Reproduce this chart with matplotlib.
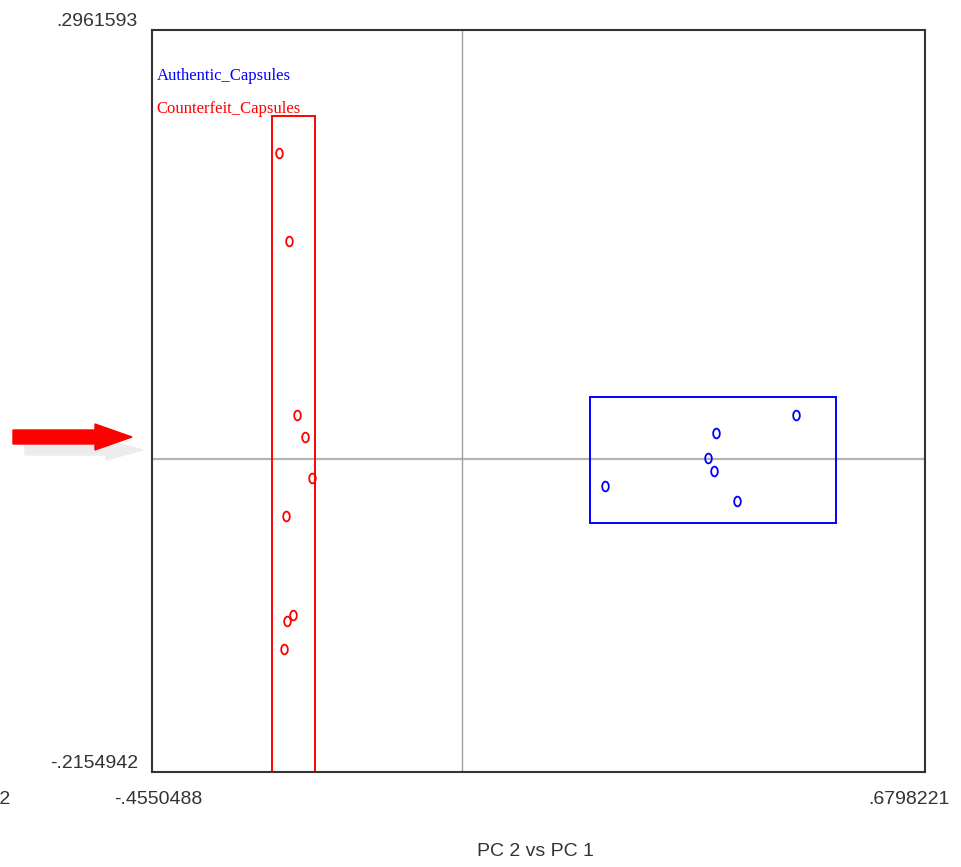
import numpy as np
import matplotlib
matplotlib.use("Agg")
import matplotlib.pyplot as plt
from matplotlib.path import Path
from matplotlib.patches import Rectangle, FancyArrow

# axis limits (PC 1 on x, PC 2 on y)
x_min, x_max = -0.4550488, 0.6798221
y_min, y_max = -0.2154942, 0.2961593

# scores
auth_pc1 = [0.2100, 0.3730, 0.3612, 0.3700, 0.4038, 0.4904]
auth_pc2 = [-0.0183, 0.0183, 0.0010, -0.0079, -0.0286, 0.0307]
fake_pc1 = [-0.2686, -0.2539, -0.2422, -0.2304, -0.2201, -0.2583, -0.2480, -0.2569, -0.2613]
fake_pc2 = [0.2113, 0.1507, 0.0307, 0.0155, -0.0128, -0.0390, -0.1072, -0.1114, -0.1307]

# class boxes: x0, x1, y0, y1
auth_box = [0.1880, 0.5491, -0.0438, 0.0431]
fake_box = [-0.2789, -0.2157, -0.30, 0.2368]

narrow = ['Liberation Sans Narrow', 'Liberation Sans', 'DejaVu Sans']
serif = ['Liberation Serif', 'DejaVu Serif']

# "o" shaped marker, taller than wide
t = np.linspace(0, 2 * np.pi, 40)
oval = Path(np.column_stack([0.68 * np.cos(t), np.sin(t)]), closed=True)

fig = plt.figure(figsize=(9.61, 8.67), dpi=100)
ax = fig.add_axes([152 / 961, 95 / 867, 773 / 961, 742 / 867])
ax.set_xlim(x_min, x_max)
ax.set_ylim(y_min, y_max)

ax.axhline(0, color='#b4b4b4', lw=1.6, zorder=1)
ax.axvline(0, color='#a0a0a0', lw=1.0, zorder=1)

for box, col in [(auth_box, 'blue'), (fake_box, 'red')]:
    ax.add_patch(Rectangle((box[0], box[2]), box[1] - box[0], box[3] - box[2],
                           fill=False, edgecolor=col, lw=1.4, zorder=2))

ax.plot(auth_pc1, auth_pc2, ls='none', marker=oval, ms=7, mfc='none',
        mec='blue', mew=1.3, zorder=3)
ax.plot(fake_pc1, fake_pc2, ls='none', marker=oval, ms=7, mfc='none',
        mec='red', mew=1.3, zorder=3)

ax.set_xticks([])
ax.set_yticks([])
for s in ax.spines.values():
    s.set_color('#333333')
    s.set_linewidth(1.5)

# legend text
ax.text(0.006, 0.938, 'Authentic_Capsules', transform=ax.transAxes, color='blue',
        family=serif, fontsize=12, va='center', ha='left')
ax.text(0.006, 0.8935, 'Counterfeit_Capsules', transform=ax.transAxes, color='red',
        family=serif, fontsize=12, va='center', ha='left')

# end labels
lab = dict(family=narrow, fontsize=14, color='#333333')
fig.text(138 / 961, 1 - 22 / 867, '.2961593', ha='right', va='center', **lab)
fig.text(138 / 961, 1 - 764 / 867, '-.2154942', ha='right', va='center', **lab)
fig.text(158 / 961, 1 - 800 / 867, '-.4550488', ha='center', va='center', **lab)
fig.text(909 / 961, 1 - 800 / 867, '.6798221', ha='center', va='center', **lab)
fig.text(10 / 961, 1 - 800 / 867, 'PC 2', ha='right', va='center', **lab)
fig.text(535 / 961, 1 - 852 / 867, 'PC 2 vs PC 1', ha='center', va='center', **lab)

# pointer arrow with shadow
W, H = 961, 867
fig.patches.append(FancyArrow(25 / W, 1 - 450 / H, 118 / W, 0, width=10 / H,
                              head_width=20 / H, head_length=37 / W,
                              length_includes_head=True, color='#ececec',
                              transform=fig.transFigure, figure=fig))
fig.patches.append(FancyArrow(13 / W, 1 - 437 / H, 119 / W, 0, width=14 / H,
                              head_width=26 / H, head_length=37 / W,
                              length_includes_head=True, color='#ff0000',
                              transform=fig.transFigure, figure=fig))

plt.savefig('out.png', dpi=100)
